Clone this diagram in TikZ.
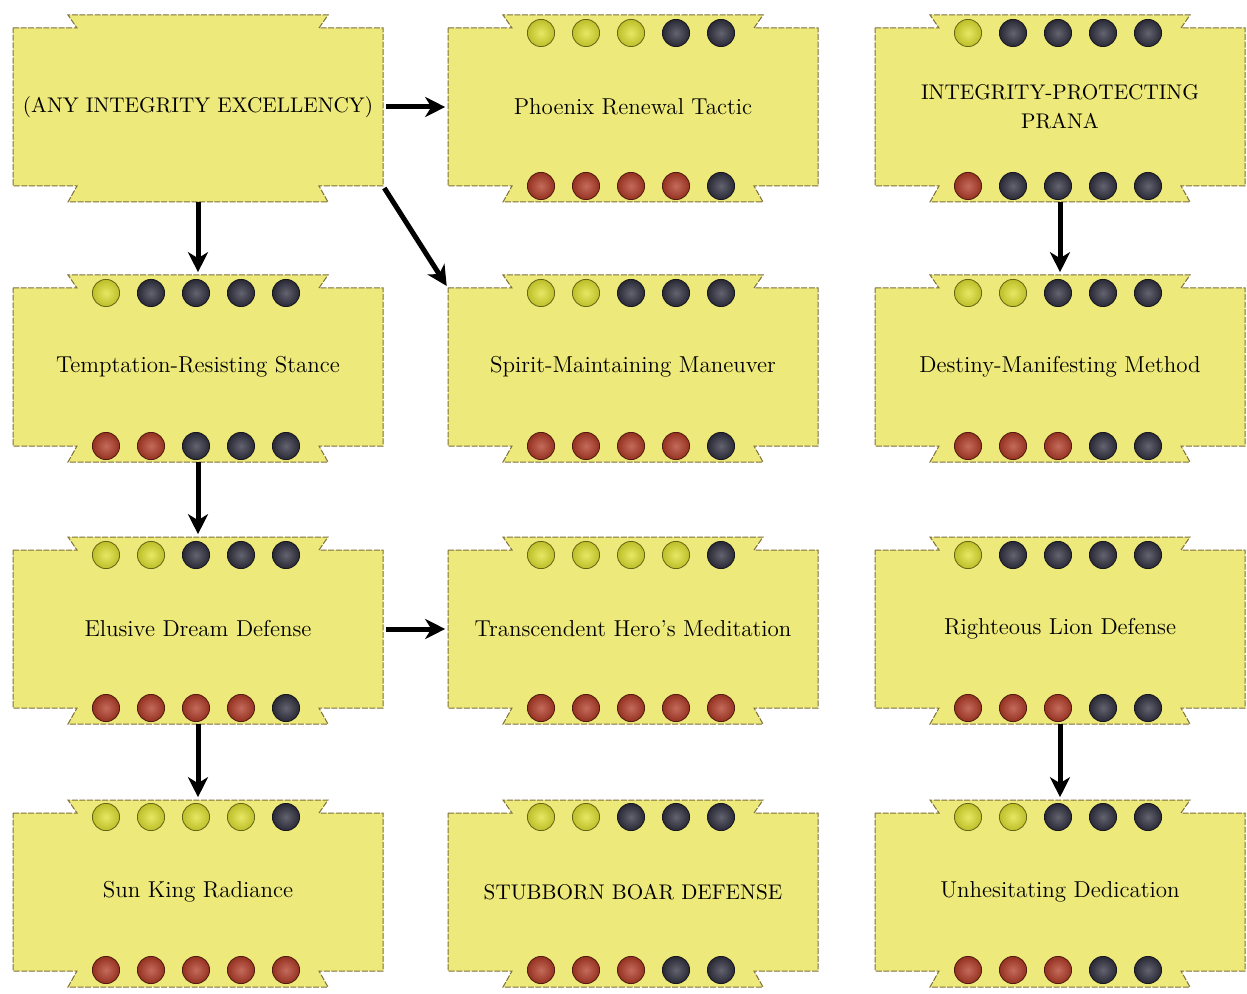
\documentclass[tikz,border=0pt]{standalone}
\usetikzlibrary{arrows.meta}

\definecolor{cardfill}{RGB}{237,233,122}
\definecolor{cardedge}{RGB}{125,112,60}
\definecolor{gy}{RGB}{222,224,48}
\definecolor{gk}{RGB}{48,48,64}
\definecolor{gr}{RGB}{176,58,38}

\newcommand{\charmcard}[5][cardtext]{%
  \filldraw[card] (#3,#4+13) -- (#3+64,#4+13) -- (#3+55,#4)
    -- (#3+315,#4) -- (#3+306,#4+13) -- (#3+370,#4+13)
    -- (#3+370,#4+171) -- (#3+306,#4+171) -- (#3+315,#4+187)
    -- (#3+55,#4+187) -- (#3+64,#4+171) -- (#3,#4+171) -- cycle;
  \node[#1] (#2) at (#3+185,#4+92) {#5};
  \coordinate (#2-nw) at (#3,#4+13);
  \coordinate (#2-se) at (#3+370,#4+171);
}
\newcommand{\gemrow}[3]{%
  \foreach \g [count=\i from 0] in {#3}
    \shade[gem,inner color=g\g!75!white,outer color=g\g!85!black,draw=g\g!45!black]
      (#1+93+45*\i,#2) circle[radius=6.8pt];
}

\begin{document}
\begin{tikzpicture}[x=0.5pt,y=-0.5pt,
  card/.style={fill=cardfill,draw=cardedge,line width=0.5pt,dash pattern=on 3pt off 0.8pt},
  cardtext/.style={minimum width=185pt,minimum height=92pt,inner sep=0pt,align=center,
    font=\fontsize{11.5}{14.5}\selectfont},
  cardcaps/.style={cardtext,font=\fontsize{10.6}{14.5}\selectfont},
  gem/.style={line width=0.4pt},
  flow/.style={line width=2.5pt,-{Stealth[length=10pt,width=10pt,inset=3pt]},shorten <=1.2pt,shorten >=1.2pt}]
\useasboundingbox[fill=white] (0,0) rectangle (1247,994);

\charmcard[cardcaps]{c11}{13}{15}{(ANY INTEGRITY EXCELLENCY)}
\charmcard{c12}{448}{15}{Phoenix Renewal Tactic}
\charmcard[cardcaps]{c13}{875}{15}{INTEGRITY-PROTECTING\\PRANA}
\charmcard{c21}{13}{275}{Temptation-Resisting Stance}
\charmcard{c22}{448}{275}{Spirit-Maintaining Maneuver}
\charmcard{c23}{875}{275}{Destiny-Manifesting Method}
\charmcard{c31}{13}{537}{Elusive Dream Defense}
\charmcard{c32}{448}{537}{Transcendent Hero's Meditation}
\charmcard{c33}{875}{537}{Righteous Lion Defense}
\charmcard{c41}{13}{800}{Sun King Radiance}
\charmcard[cardcaps]{c42}{448}{800}{STUBBORN BOAR DEFENSE}
\charmcard{c43}{875}{800}{Unhesitating Dedication}

\gemrow{448}{33}{y,y,y,k,k}  \gemrow{448}{186}{r,r,r,r,k}
\gemrow{875}{33}{y,k,k,k,k}  \gemrow{875}{186}{r,k,k,k,k}
\gemrow{13}{293}{y,k,k,k,k}  \gemrow{13}{446}{r,r,k,k,k}
\gemrow{448}{293}{y,y,k,k,k} \gemrow{448}{446}{r,r,r,r,k}
\gemrow{875}{293}{y,y,k,k,k} \gemrow{875}{446}{r,r,r,k,k}
\gemrow{13}{555}{y,y,k,k,k}  \gemrow{13}{708}{r,r,r,r,k}
\gemrow{448}{555}{y,y,y,y,k} \gemrow{448}{708}{r,r,r,r,r}
\gemrow{875}{555}{y,k,k,k,k} \gemrow{875}{708}{r,r,r,k,k}
\gemrow{13}{817}{y,y,y,y,k}  \gemrow{13}{970}{r,r,r,r,r}
\gemrow{448}{817}{y,y,k,k,k} \gemrow{448}{970}{r,r,r,k,k}
\gemrow{875}{817}{y,y,k,k,k} \gemrow{875}{970}{r,r,r,k,k}

\draw[flow] (c11) -- (c12);
\draw[flow] (c11) -- (c21);
\draw[flow] (c11-se) -- (c22-nw);
\draw[flow] (c21) -- (c31);
\draw[flow] (c31) -- (c32);
\draw[flow] (c31) -- (c41);
\draw[flow] (c13) -- (c23);
\draw[flow] (c33) -- (c43);
\end{tikzpicture}
\end{document}
